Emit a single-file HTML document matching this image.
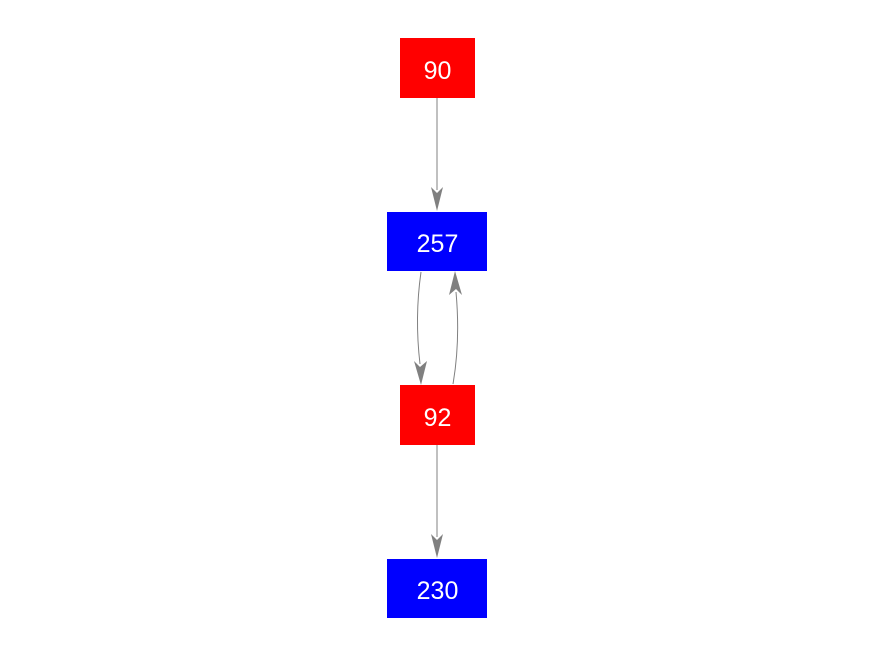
<!DOCTYPE html>
<html><head><meta charset="utf-8"><style>
html,body{margin:0;padding:0;background:#fff;width:875px;height:656px;overflow:hidden}
</style></head><body>
<svg width="875" height="656" viewBox="0 0 875 656" xmlns="http://www.w3.org/2000/svg" font-family="Liberation Sans, sans-serif">
<g stroke="#808080" stroke-width="1" fill="none">
<line x1="437" y1="98" x2="437" y2="190"/>
<path d="M421,272 C417,300 416,330 420,364"/>
<path d="M453,384 C458,355 459,325 456,292"/>
<line x1="437" y1="445" x2="437" y2="537"/>
</g>
<g fill="#808080">
<polygon points="431,187 437,211 443,187 437,193"/>
<polygon points="414,361 421,385 427,361 420,367"/>
<polygon points="449,295 455,271 462,295 456,289"/>
<polygon points="431,534 437,558 443,534 437,540"/>
</g>
<rect x="400" y="38" width="75" height="60" fill="#ff0000"/>
<rect x="387" y="212" width="100" height="59" fill="#0000ff"/>
<rect x="400" y="385" width="75" height="60" fill="#ff0000"/>
<rect x="387" y="559" width="100" height="59" fill="#0000ff"/>
<g fill="#fff" font-size="25" text-anchor="middle">
<text x="437.5" y="79">90</text>
<text x="437.5" y="252">257</text>
<text x="437.5" y="426">92</text>
<text x="437.5" y="599">230</text>
</g>
</svg>
</body></html>
